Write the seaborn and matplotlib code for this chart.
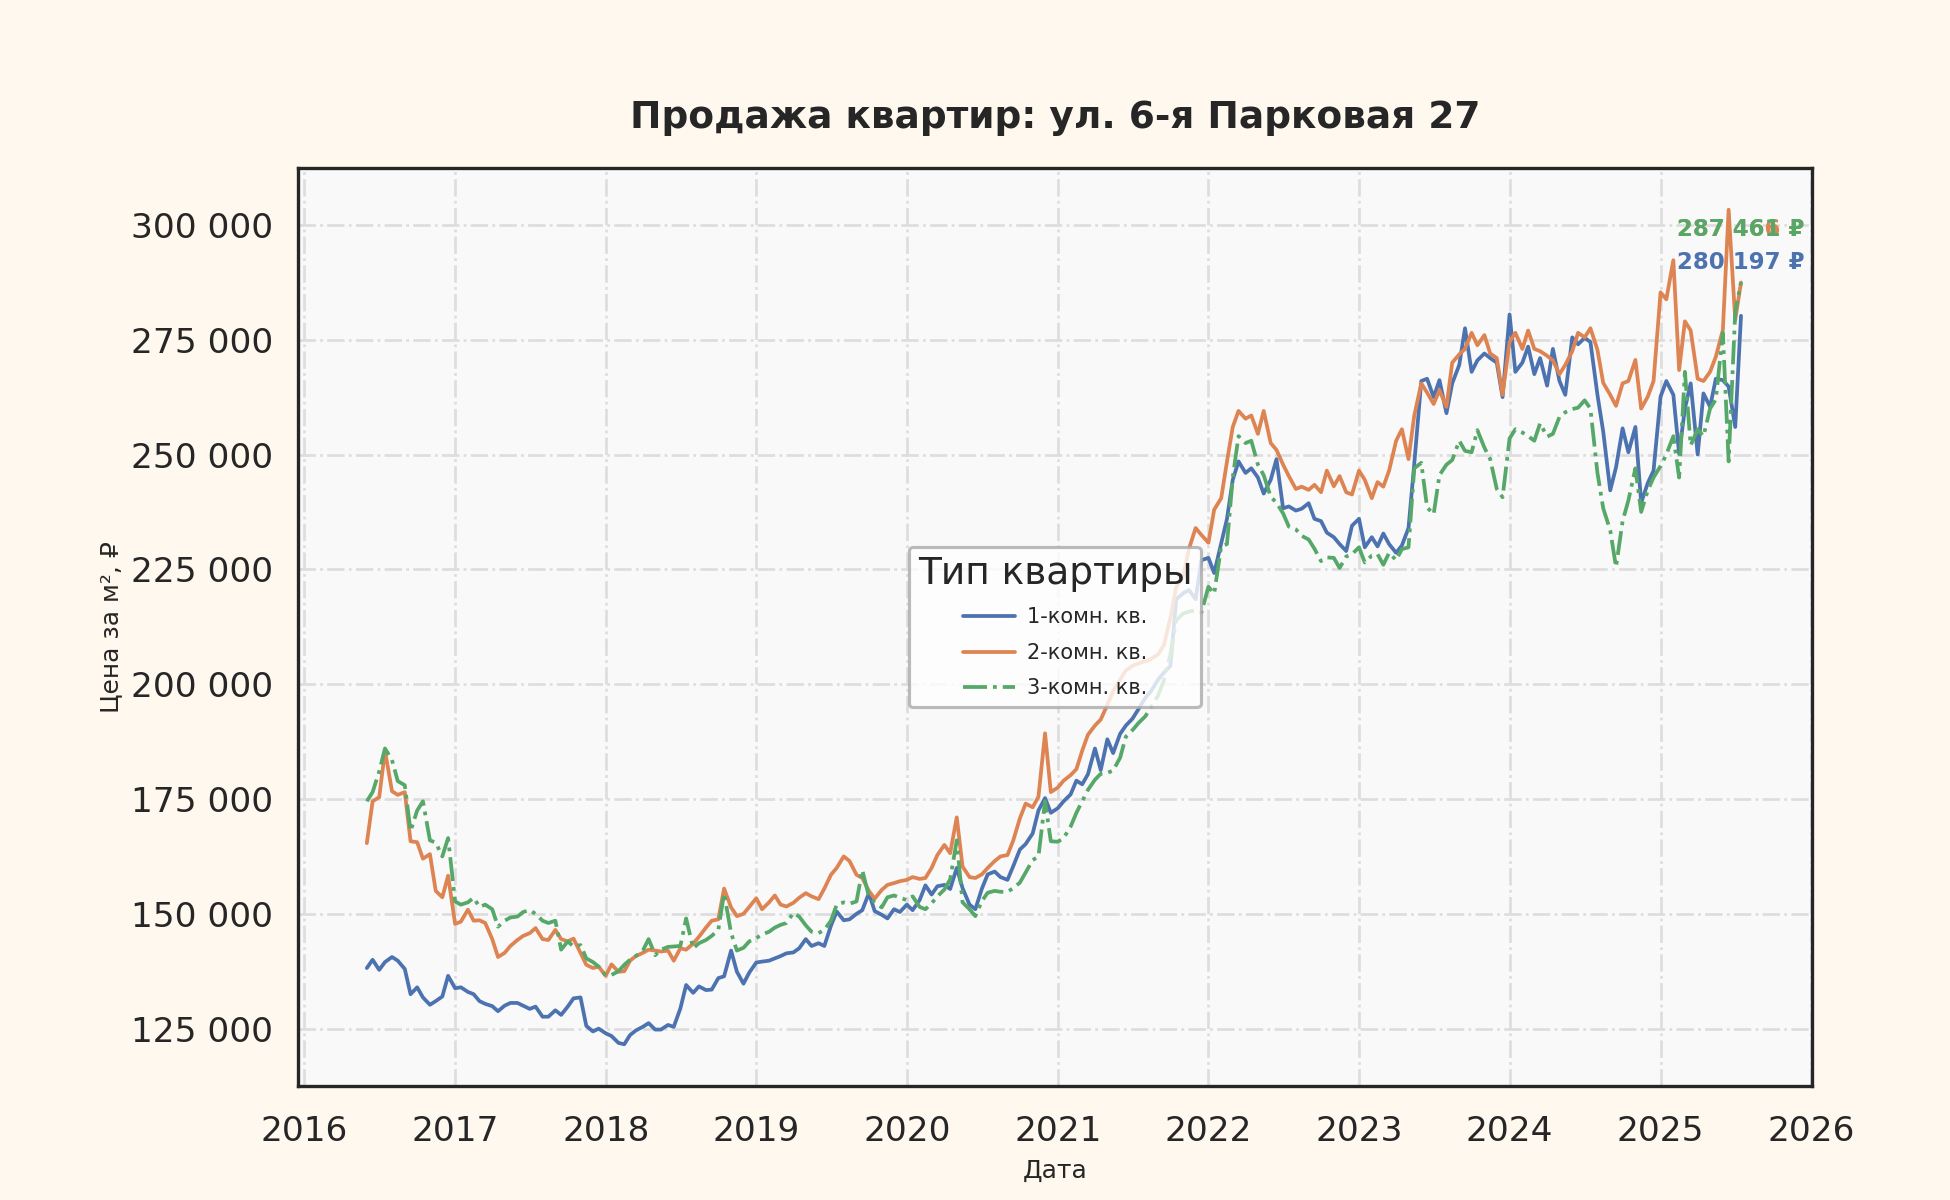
import numpy as np
import pandas as pd
import matplotlib
matplotlib.use('Agg')
import matplotlib.pyplot as plt
import matplotlib.dates as mdates
import matplotlib.ticker as mticker
import seaborn as sns

# semi-monthly observations, 2016-06-01 .. 2025-07-15 (prices in thousand rubles per m2)
dates = pd.date_range('2016-06-01', '2025-07-15', freq='SMS')

one_room = [
    138.2, 140.0, 137.8, 139.5, 140.6, 139.8, 138.0, 132.5, 134.0, 131.8, 130.2, 131.0, 132.0, 136.5,
    133.8, 134.0, 133.0, 132.5, 131.0, 130.4, 129.9, 128.8, 130.0, 130.6, 130.6, 130.0,
    129.3, 129.8, 127.6, 127.6, 129.0, 128.0, 129.8, 131.6, 131.8, 125.6, 124.4, 125.0,
    124.0, 123.4, 121.9, 121.6, 123.6, 124.6, 125.4, 126.2, 124.8, 124.8, 125.8, 125.4,
    129.4, 134.5, 132.8, 134.2, 133.4, 133.5, 136.0, 136.4, 142.0, 137.4, 134.8, 137.2,
    139.4, 139.6, 139.8, 140.3, 140.8, 141.4, 141.6, 142.5, 144.5, 143.0, 143.6, 143.0,
    147.4, 150.5, 148.6, 148.8, 150.0, 150.8, 154.5, 150.6, 149.8, 149.0, 151.0, 150.4,
    152.0, 150.8, 153.0, 156.2, 154.2, 156.0, 156.3, 155.4, 160.0, 155.6, 152.0, 151.0,
    155.5, 158.6, 159.2, 158.0, 157.4, 160.4, 164.0, 165.2, 167.5, 172.5, 175.2, 172.0,
    173.0, 174.5, 176.0, 179.0, 178.2, 180.4, 186.0, 181.3, 188.0, 185.0, 189.2, 191.0,
    192.5, 194.5, 197.0, 198.5, 201.0, 202.5, 204.0, 218.5, 219.8, 220.5, 218.5, 227.0,
    227.5, 224.2, 230.7, 236.0, 244.5, 248.5, 246.0, 247.0, 245.0, 241.5, 244.5, 249.0,
    238.3, 238.7, 237.8, 238.2, 239.4, 236.0, 235.5, 233.0, 232.0, 230.5, 229.0, 234.5,
    236.0, 229.8, 232.0, 230.0, 232.8, 230.5, 228.6, 230.2, 234.0, 248.0, 266.0, 266.5,
    262.5, 266.2, 259.0, 265.5, 269.5, 277.5, 268.0, 270.5, 272.0, 271.0, 270.0, 262.5,
    280.5, 268.0, 270.0, 273.5, 267.5, 271.0, 265.0, 273.0, 266.0, 263.0, 275.5, 274.0,
    275.4, 274.5, 263.0, 255.0, 242.2, 247.2, 255.7, 250.5, 256.0, 239.5, 243.8, 246.5,
    262.6, 266.0, 263.0, 250.2, 260.0, 265.5, 250.0, 263.3, 260.4, 266.5, 266.2, 264.8, 256.0, 280.197,
]

two_room = [
    165.4, 174.5, 175.4, 185.5, 176.7, 175.9, 176.5, 165.8, 165.6, 162.0, 163.0, 155.0, 153.6, 158.3,
    147.8, 148.3, 150.9, 148.5, 148.6, 148.0, 144.5, 140.6, 141.5, 143.0, 144.3, 145.2,
    145.8, 146.9, 144.5, 144.3, 146.5, 144.5, 144.0, 144.6, 141.5, 138.9, 138.2, 138.5,
    136.5, 139.0, 137.4, 137.5, 139.8, 140.8, 141.5, 142.2, 142.0, 141.8, 142.0, 139.8,
    142.5, 142.2, 143.5, 145.0, 147.0, 148.5, 148.8, 155.5, 151.4, 149.5, 150.0, 151.5,
    153.4, 151.0, 152.5, 154.0, 152.0, 151.6, 152.4, 153.5, 154.5, 153.8, 153.2, 155.5,
    158.5, 160.0, 162.5, 161.5, 158.5, 157.8, 155.0, 153.3, 155.2, 156.3, 156.7, 157.1,
    157.4, 158.0, 157.6, 157.8, 160.0, 162.8, 165.0, 163.2, 171.0, 160.3, 158.0, 157.8,
    158.6, 160.0, 161.5, 162.5, 162.8, 166.0, 170.8, 174.0, 173.2, 175.5, 189.3, 176.5,
    177.5, 179.0, 180.2, 181.5, 185.5, 189.0, 191.0, 192.3, 195.5, 198.5, 201.0, 203.0,
    204.0, 204.5, 205.0, 205.5, 206.5, 208.5, 214.5, 221.2, 223.5, 229.5, 234.0, 232.5,
    230.8, 238.0, 240.5, 248.5, 256.0, 259.5, 257.8, 258.5, 254.5, 259.5, 252.5, 251.0,
    247.8, 245.3, 242.5, 243.0, 242.3, 243.4, 241.8, 246.5, 243.1, 245.3, 241.8, 241.3,
    246.5, 244.5, 240.5, 244.0, 243.0, 246.5, 253.0, 255.5, 249.0, 258.5, 265.5, 263.5,
    261.0, 264.0, 260.4, 270.0, 271.8, 273.0, 276.5, 273.8, 276.0, 272.0, 271.0, 263.0,
    274.5, 276.5, 273.0, 277.0, 273.0, 272.5, 271.5, 270.5, 267.5, 269.5, 272.5, 276.5,
    275.5, 277.5, 272.8, 265.6, 263.0, 260.6, 265.5, 266.0, 270.6, 260.0, 262.6, 266.0,
    285.3, 283.8, 292.3, 268.4, 279.0, 277.0, 266.5, 266.0, 268.0, 271.3, 277.1, 303.3, 279.3, 287.466,
]

three_room = [
    174.5, 176.5, 181.0, 186.0, 183.5, 178.9, 178.0, 168.0, 172.5, 174.5, 166.0, 165.5, 162.5, 166.5,
    152.7, 152.0, 152.5, 153.5, 151.5, 152.0, 151.0, 147.2, 148.5, 149.2, 149.4, 150.4,
    150.8, 150.0, 148.5, 148.0, 148.5, 142.2, 144.0, 142.9, 143.2, 140.3, 139.5, 138.5,
    136.6, 136.7, 137.5, 138.9, 140.0, 140.8, 142.0, 144.5, 141.0, 142.2, 142.8, 142.9,
    143.0, 149.0, 142.5, 143.6, 144.3, 145.2, 146.5, 154.5, 145.8, 142.0, 142.6, 144.0,
    144.7, 145.5, 146.1, 147.0, 147.6, 148.0, 150.2, 149.4, 147.5, 146.1, 145.8, 146.5,
    148.5, 152.0, 152.5, 152.2, 152.7, 159.5, 153.8, 152.5, 151.4, 153.6, 154.0, 153.5,
    153.0, 153.8, 151.5, 151.0, 152.3, 153.8, 155.3, 157.5, 166.0, 152.5, 151.0, 149.5,
    152.8, 154.6, 155.0, 154.8, 154.8, 155.6, 156.8, 159.0, 161.7, 162.5, 174.5, 165.8,
    165.7, 166.5, 169.0, 172.0, 174.5, 177.0, 179.2, 180.5, 180.7, 181.2, 184.0, 188.6,
    190.0, 191.5, 193.0, 195.0, 197.5, 200.8, 206.5, 213.9, 215.4, 215.8, 216.1, 215.6,
    221.2, 219.7, 230.0, 230.5, 245.0, 254.0, 252.5, 253.0, 247.8, 245.5, 240.8, 239.5,
    237.2, 234.3, 233.7, 232.3, 231.5, 229.5, 226.8, 227.6, 227.5, 225.3, 227.8, 228.3,
    229.8, 226.5, 228.0, 228.3, 226.0, 228.6, 227.0, 229.4, 229.8, 247.0, 248.2, 238.5,
    237.0, 245.5, 247.8, 248.8, 253.0, 250.8, 250.5, 255.3, 251.5, 249.0, 242.5, 240.7,
    253.5, 255.5, 254.8, 254.0, 253.0, 256.8, 253.9, 254.5, 258.2, 259.2, 259.9, 260.2,
    261.8, 260.0, 246.0, 238.3, 233.5, 225.5, 235.5, 240.0, 247.0, 237.5, 242.2, 245.0,
    247.5, 250.0, 254.0, 245.0, 268.0, 252.0, 255.5, 254.0, 260.0, 262.0, 276.5, 248.5, 281.0, 287.461,
]

room_types = ['1-комн. кв.', '2-комн. кв.', '3-комн. кв.']


def fmt_space(v):
    return f'{v:,.0f}'.replace(',', ' ')


sns.set_theme(style='whitegrid', context='talk', palette='deep')
plt.rcParams['font.family'] = ['DejaVu Sans']

wide = pd.DataFrame({
    'Дата': dates,
    room_types[0]: np.array(one_room) * 1000,
    room_types[1]: np.array(two_room) * 1000,
    room_types[2]: np.array(three_room) * 1000,
})
df = wide.melt(id_vars='Дата', var_name='Тип квартиры', value_name='Цена')

colors = sns.color_palette('deep')[:3]
palette = dict(zip(room_types, colors))
dashes = {room_types[0]: '', room_types[1]: '', room_types[2]: (6.4, 1.6, 1.0, 1.6)}

fig, ax = plt.subplots(figsize=(13, 8), dpi=150)
fig.patch.set_facecolor('#FFF8EE')
fig.subplots_adjust(left=0.153, right=0.929, top=0.86, bottom=0.095)
ax.set_facecolor('#F9F9F9')

sns.lineplot(data=df, x='Дата', y='Цена', hue='Тип квартиры', style='Тип квартиры',
             palette=palette, dashes=dashes, estimator=None, linewidth=1.8, ax=ax)

# last value labels
for name, col in zip(room_types, colors):
    last = wide[name].iloc[-1]
    ax.annotate(f'{fmt_space(last)} ₽', xy=(wide['Дата'].iloc[-1], last),
                xytext=(0, 20), textcoords='offset points', ha='center', va='bottom',
                fontsize=11, fontweight='bold', color=col)

ax.set_title('Продажа квартир: ул. 6-я Парковая 27', fontsize=18, fontweight='bold', pad=19)
ax.set_xlabel('Дата', fontsize=12, labelpad=5)
ax.set_ylabel('Цена за м², ₽', fontsize=12, labelpad=4)

ax.set_xlim(pd.Timestamp('2015-12-18'), pd.Timestamp('2026-01-02'))
ax.xaxis.set_major_locator(mdates.YearLocator())
ax.xaxis.set_major_formatter(mdates.DateFormatter('%Y'))
ax.yaxis.set_major_locator(mticker.MultipleLocator(25000))
ax.yaxis.set_major_formatter(mticker.FuncFormatter(lambda v, p: fmt_space(v)))
ax.tick_params(axis='x', length=0, pad=14, labelsize=16.5, colors='#262626')
ax.tick_params(axis='y', length=0, pad=12, labelsize=16.5, colors='#262626')

ax.grid(True, linestyle='-.', color='#DDDDDD', linewidth=1.3)
for s in ax.spines.values():
    s.set_visible(True)
    s.set_color('#262626')
    s.set_linewidth(1.6)

sns.move_legend(ax, 'center', title='Тип квартиры', title_fontsize=18, fontsize=10,
                frameon=True, framealpha=0.8, edgecolor='#AAAAAA', handlelength=2.5,
                labelspacing=0.75, handletextpad=0.6)

fig.savefig('out.png', dpi=150, facecolor=fig.get_facecolor())
